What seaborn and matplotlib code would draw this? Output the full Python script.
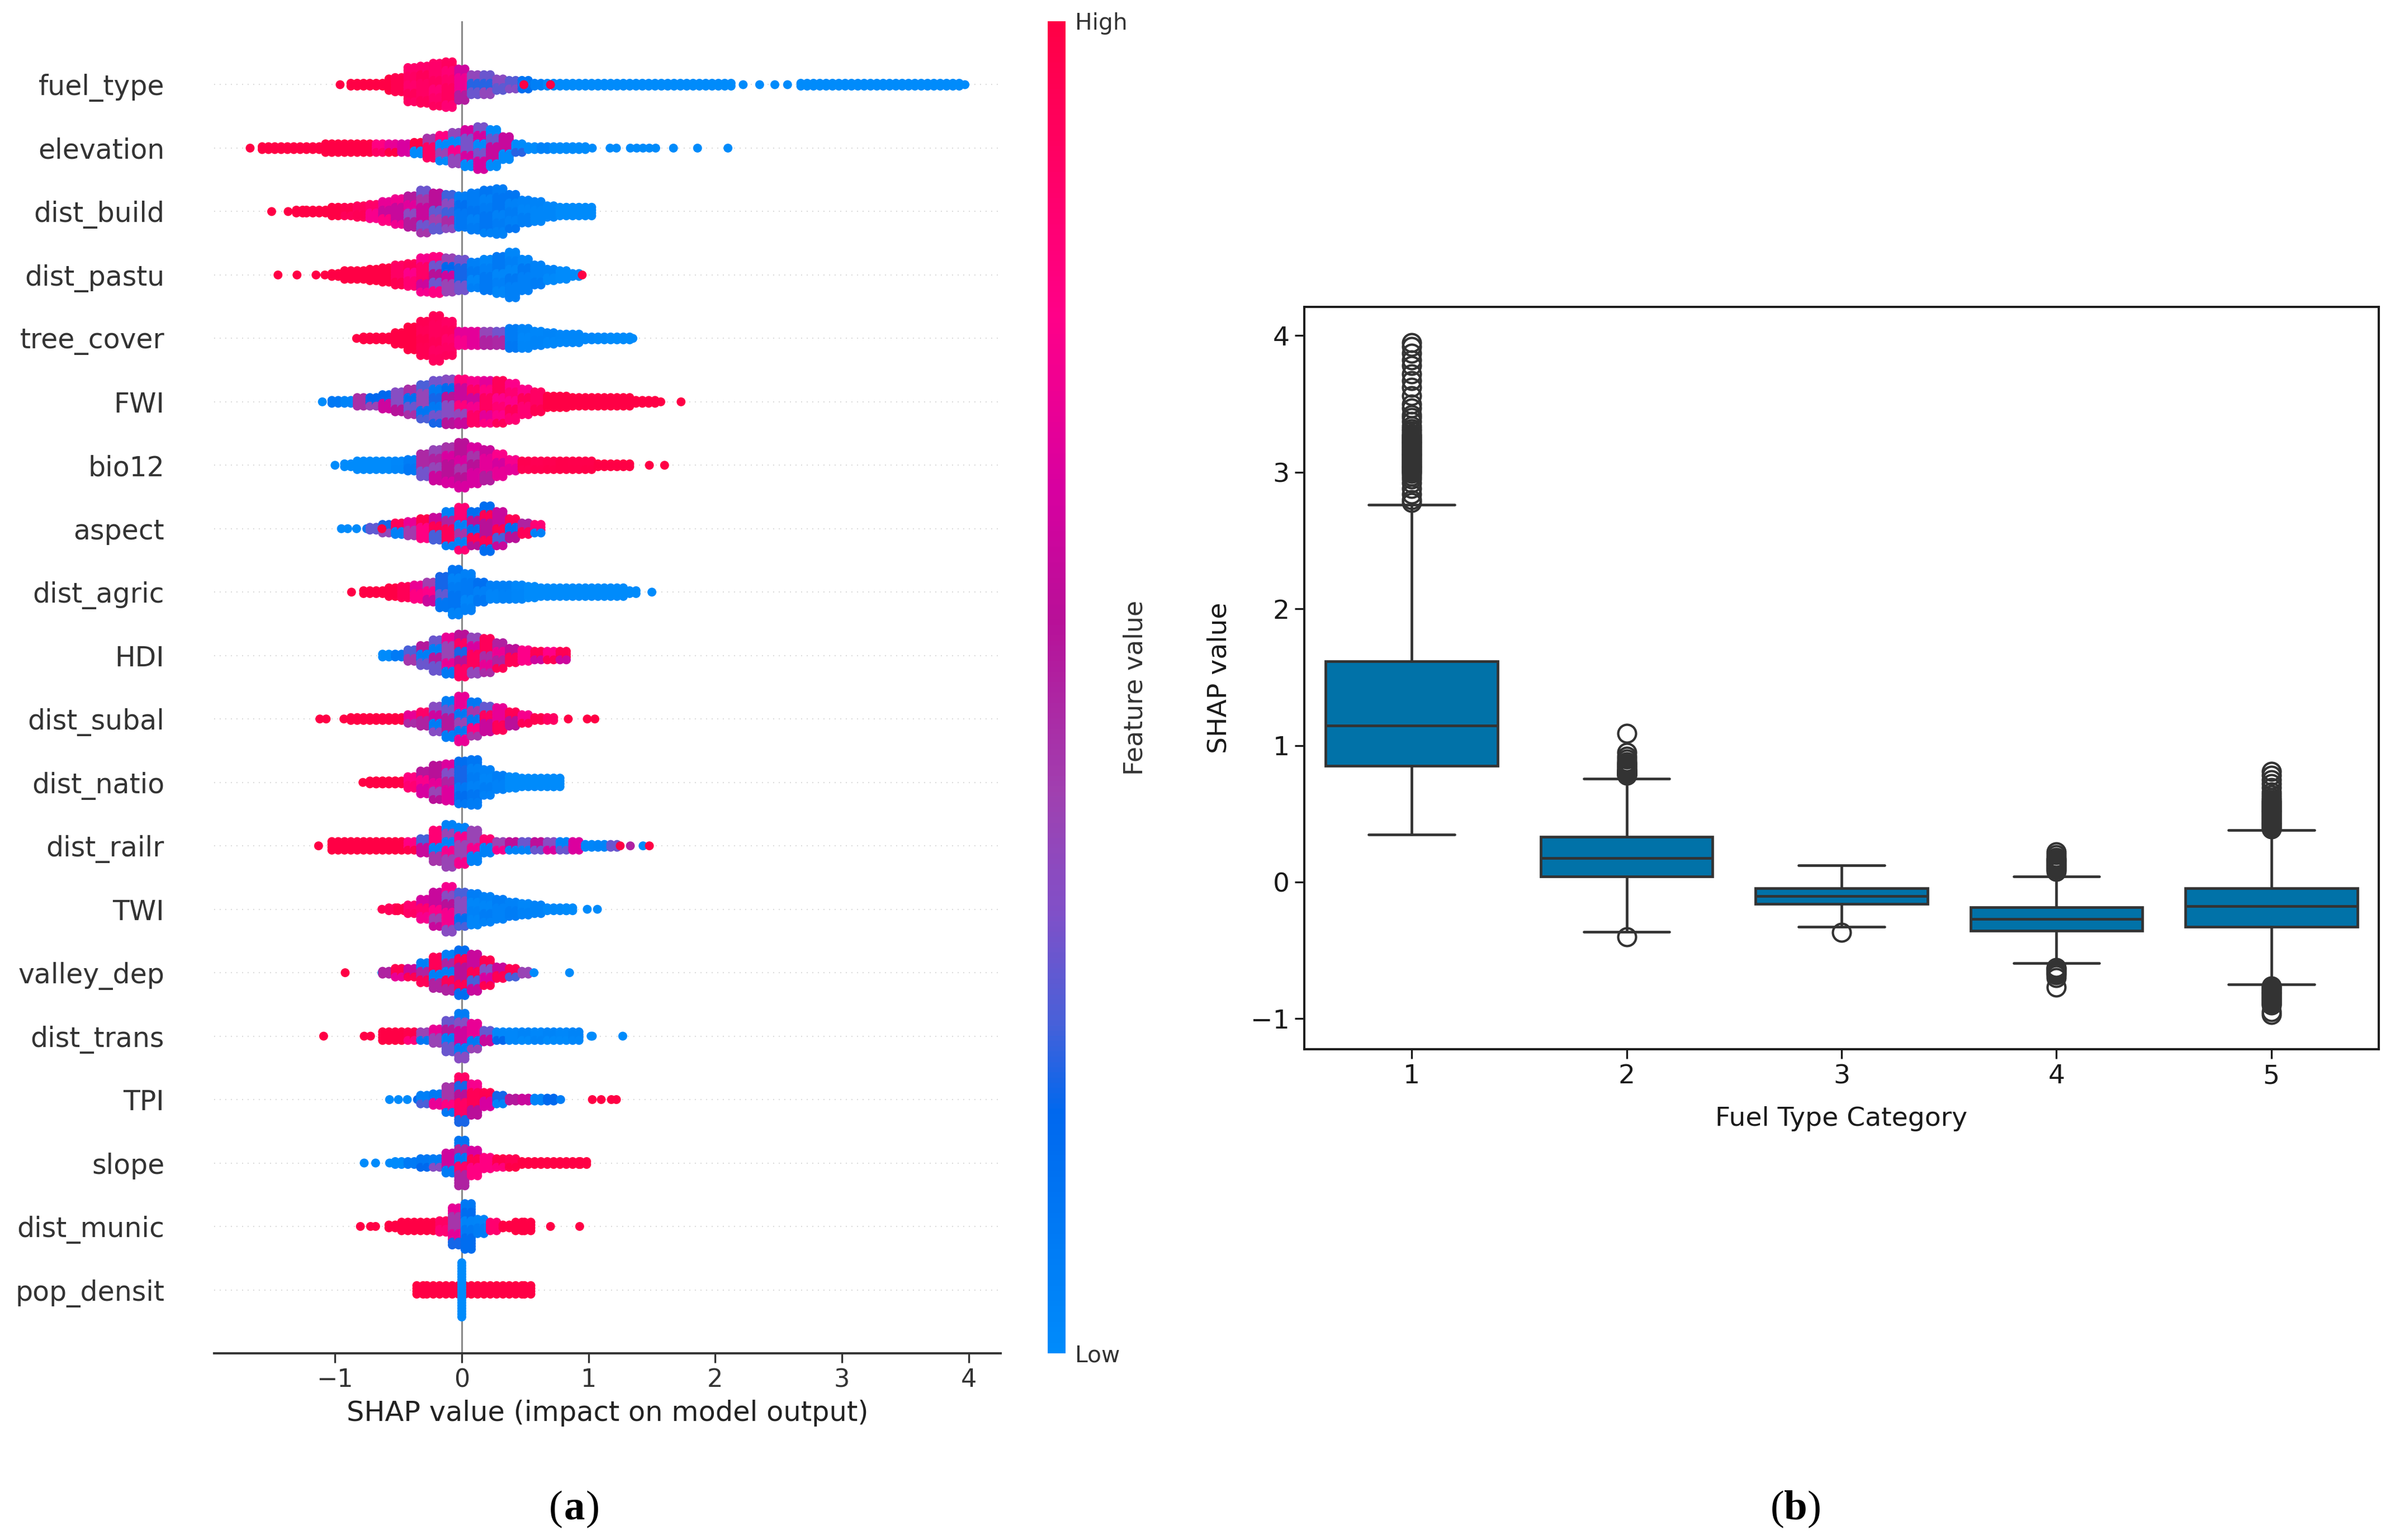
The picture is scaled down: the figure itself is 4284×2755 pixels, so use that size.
import numpy as np
import pandas as pd
import matplotlib
matplotlib.use("Agg")
import matplotlib.pyplot as plt
from matplotlib.colors import LinearSegmentedColormap
from matplotlib.cm import ScalarMappable
import seaborn as sns

W, H = 4284, 2755
DPI = 200

features = ["fuel_type", "elevation", "dist_build", "dist_pastu", "tree_cover", "FWI", "bio12",
            "aspect", "dist_agric", "HDI", "dist_subal", "dist_natio", "dist_railr", "TWI",
            "valley_dep", "dist_trans", "TPI", "slope", "dist_munic", "pop_densit"]

# Each feature: SHAP value of a bin, height of the bin's stack, mean feature value of the bin, mixing of colours
fuel_type_x = [-0.96,-0.85,-0.75,-0.65,-0.55,-0.5,-0.4,-0.3,-0.2,-0.1,0.0,0.1,0.2,0.3,0.4,0.5,0.6,0.7,0.8,0.9,1.0,1.1,1.2,1.3,1.4,1.5,1.6,1.7,1.8,1.9,2.0,2.1,2.22,2.35,2.47,2.57,2.7,2.8,2.9,3.0,3.1,3.2,3.3,3.4,3.5,3.6,3.7,3.8,3.9,3.97,0.49,0.7]
fuel_type_n = [1,2,2,2,4,5,10,11,12,13,9,6,6,4,3,3,2,2,2,2,2,2,2,2,2,2,2,2,2,2,2,2,1,1,1,1,2,2,2,2,2,2,2,2,2,2,2,2,2,1,1,1]
fuel_type_v = [1,1,1,1,1,.95,.9,.9,.88,.88,.62,.3,.3,.28,.27,.15,.05,.02,0,0,0,0,0,0,0,0,0,0,0,0,0,0,0,0,0,0,0,0,0,0,0,0,0,0,0,0,0,0,0,0,1,1]
fuel_type_mix = 0.25

elevation_x = [-1.67,-1.55,-1.45,-1.35,-1.25,-1.15,-1.05,-0.95,-0.85,-0.75,-0.65,-0.55,-0.45,-0.35,-0.25,-0.15,-0.05,0.05,0.15,0.25,0.35,0.45,0.55,0.65,0.75,0.85,0.95,1.03,1.17,1.22,1.33,1.38,1.43,1.48,1.53,1.67,1.86,2.1]
elevation_n = [1,2,2,2,2,2,3,3,3,3,3,3,3,4,6,8,9,11,12,11,7,3,2,2,2,2,2,1,1,1,1,1,1,1,1,1,1,1]
elevation_v = [1,1,1,1,1,1,1,1,1,.95,.9,.85,.65,.5,.45,.4,.38,.32,.32,.3,.3,.22,.05,.05,0,0,0,0,0,0,0,0,0,0,0,0,0,0]
elevation_mix = 0.9

dist_build_x = [-1.5,-1.37,-1.28,-1.2,-1.1,-1.0,-0.9,-0.8,-0.7,-0.6,-0.5,-0.4,-0.3,-0.2,-0.1,0.0,0.1,0.2,0.3,0.4,0.5,0.6,0.7,0.8,0.9,1.0]
dist_build_n = [1,1,2,2,2,3,3,4,5,6,8,9,12,11,10,9,11,12,13,10,7,6,4,3,3,3]
dist_build_v = [1,1,1,1,1,1,.95,.92,.82,.7,.6,.52,.45,.42,.36,.1,.08,.08,.08,.08,.05,.03,.02,0,0,0]
dist_build_mix = 0.3

dist_pastu_x = [-1.45,-1.3,-1.15,-1.08,-1.0,-0.9,-0.8,-0.7,-0.6,-0.5,-0.4,-0.3,-0.2,-0.1,0.0,0.1,0.2,0.3,0.4,0.5,0.6,0.7,0.8,0.9,0.95]
dist_pastu_n = [1,1,1,1,2,3,3,4,5,6,7,10,11,10,9,8,9,11,13,9,6,4,3,2,1]
dist_pastu_v = [1,1,1,1,1,1,1,1,1,.9,.85,.75,.55,.4,.2,.06,.06,.06,.06,.06,.05,.03,0,0,1]
dist_pastu_mix = 0.5

tree_cover_x = [-0.83,-0.75,-0.65,-0.55,-0.5,-0.4,-0.3,-0.2,-0.1,0.0,0.1,0.2,0.3,0.4,0.5,0.6,0.7,0.8,0.9,1.0,1.1,1.2,1.3,1.35]
tree_cover_n = [1,2,2,2,4,7,10,13,10,5,5,5,5,6,6,5,4,3,3,2,2,2,2,1]
tree_cover_v = [1,1,1,1,1,1,.95,.92,.9,.75,.6,.5,.4,.08,.03,.03,.03,.03,.02,.02,.02,0,0,0]
tree_cover_mix = 0.2

FWI_x = [-1.1,-1.0,-0.9,-0.8,-0.7,-0.6,-0.5,-0.4,-0.3,-0.2,-0.1,0.0,0.1,0.2,0.3,0.4,0.5,0.6,0.7,0.8,0.9,1.0,1.1,1.2,1.3,1.4,1.5,1.57,1.73]
FWI_n = [1,2,2,3,3,5,6,8,10,12,13,13,12,12,12,11,8,6,4,4,3,3,3,3,3,2,2,1,1]
FWI_v = [0,.1,.1,.3,.4,.4,.35,.3,.25,.2,.35,.6,.75,.8,.85,.85,.85,.9,1,1,1,1,1,1,1,1,1,1,1]
FWI_mix = 0.5

bio12_x = [-1.0,-0.9,-0.8,-0.7,-0.6,-0.5,-0.4,-0.3,-0.2,-0.1,0.0,0.1,0.2,0.3,0.4,0.5,0.6,0.7,0.8,0.9,1.0,1.1,1.2,1.3,1.48,1.6]
bio12_n = [1,2,3,3,3,3,4,7,9,11,13,11,9,7,4,3,3,3,3,3,3,2,2,2,1,1]
bio12_v = [0,0,0,0,0,.02,.1,.4,.5,.55,.55,.55,.6,.7,.75,.95,.95,.97,.97,.98,.98,1,1,1,1,1]
bio12_mix = 0.2

aspect_x = [-0.95,-0.9,-0.83,-0.75,-0.7,-0.6,-0.5,-0.4,-0.3,-0.2,-0.1,0.0,0.1,0.2,0.3,0.4,0.5,0.6,-0.63]
aspect_n = [1,1,1,1,2,3,4,5,6,7,10,12,10,13,10,6,4,3,1]
aspect_v = [0,0,0,.1,.15,.2,.5,.7,.8,.6,.5,.45,.55,.55,.6,.55,.5,.45,1]
aspect_mix = 0.8

dist_agric_x = [-0.87,-0.75,-0.65,-0.55,-0.45,-0.35,-0.25,-0.15,-0.05,0.05,0.15,0.25,0.35,0.45,0.55,0.65,0.75,0.85,0.95,1.05,1.15,1.25,1.35,1.5]
dist_agric_n = [1,2,2,3,4,5,6,9,13,11,6,5,5,5,4,3,3,3,3,3,3,3,2,1]
dist_agric_v = [1,1,1,1,.9,.8,.6,.2,.08,.06,.1,.06,.04,.02,0,0,0,0,0,0,0,0,0,0]
dist_agric_mix = 0.4

HDI_x = [-0.6,-0.5,-0.4,-0.3,-0.2,-0.1,0.0,0.1,0.2,0.3,0.4,0.5,0.6,0.7,0.8]
HDI_n = [2,2,4,6,9,11,12,11,10,8,5,4,3,3,3]
HDI_v = [0,.05,.25,.3,.3,.4,.55,.65,.7,.72,.75,.77,.78,.78,.78]
HDI_mix = 0.7

dist_subal_x = [-1.12,-1.07,-0.93,-0.85,-0.75,-0.65,-0.55,-0.45,-0.4,-0.3,-0.2,-0.1,0.0,0.1,0.2,0.3,0.4,0.5,0.6,0.7,0.84,0.99,1.05]
dist_subal_n = [1,1,1,2,2,2,2,2,3,5,8,11,13,10,8,7,5,3,2,2,1,1,1]
dist_subal_v = [1,1,1,1,1,1,1,1,.7,.5,.35,.3,.4,.45,.6,.7,.75,.75,.85,.9,1,1,1]
dist_subal_mix = 0.7

dist_natio_x = [-0.78,-0.7,-0.65,-0.6,-0.55,-0.5,-0.4,-0.3,-0.2,-0.1,0.0,0.1,0.2,0.3,0.4,0.5,0.6,0.7,0.75]
dist_natio_n = [1,2,2,2,2,2,4,7,10,11,12,13,8,5,4,3,3,3,3]
dist_natio_v = [1,1,1,1,1,1,.85,.65,.55,.5,.15,.08,.05,.05,0,0,0,0,0]
dist_natio_mix = 0.3

dist_railr_x = [-1.13,-1.0,-0.9,-0.8,-0.7,-0.6,-0.5,-0.4,-0.3,-0.2,-0.1,0.0,0.1,0.2,0.3,0.4,0.5,0.6,0.7,0.8,0.9,1.0,1.1,1.2,1.25,1.33,1.43,1.48]
dist_railr_n = [1,3,3,3,3,3,3,3,5,9,12,11,9,5,3,3,3,3,3,3,3,2,2,2,1,1,1,1]
dist_railr_v = [1,1,1,1,1,1,1,.8,.6,.45,.4,.4,.4,.45,.4,.3,.3,.3,.35,.3,.35,.2,.3,.3,1,.5,0,1]
dist_railr_mix = 0.8

TWI_x = [-0.63,-0.55,-0.48,-0.4,-0.3,-0.2,-0.1,0.0,0.1,0.2,0.3,0.4,0.5,0.6,0.7,0.8,0.85,0.99,1.07]
TWI_n = [1,2,2,3,6,10,13,10,9,8,6,5,4,3,2,2,2,1,1]
TWI_v = [.95,.95,.95,.9,.75,.6,.55,.25,.05,.05,.05,.05,.05,.03,.03,.02,0,0,0]
TWI_mix = 0.4

valley_dep_x = [-0.92,-0.63,-0.6,-0.5,-0.4,-0.3,-0.2,-0.1,0.0,0.1,0.2,0.3,0.4,0.5,0.57,0.85]
valley_dep_n = [1,1,2,3,3,6,9,11,13,11,8,4,3,2,1,1]
valley_dep_v = [1,0,.5,.7,.6,.5,.5,.5,.55,.6,.65,.6,.6,.4,0,0]
valley_dep_mix = 0.8

dist_trans_x = [-1.09,-0.77,-0.72,-0.6,-0.5,-0.4,-0.3,-0.2,-0.1,0.0,0.1,0.2,0.3,0.4,0.5,0.6,0.7,0.8,0.9,1.02,1.03,1.27]
dist_trans_n = [1,1,1,3,3,3,3,5,9,13,8,4,3,3,3,3,3,3,3,1,1,1]
dist_trans_v = [1,1,1,1,1,.9,.4,.4,.3,.35,.4,.6,.1,.02,.02,.02,.02,.02,.02,0,0,0]
dist_trans_mix = 0.7

TPI_x = [-0.57,-0.5,-0.43,-0.35,-0.3,-0.2,-0.1,0.0,0.1,0.2,0.3,0.4,0.5,0.6,0.7,0.78,1.03,1.1,1.18,1.22]
TPI_n = [1,1,1,1,3,4,8,13,9,5,3,2,2,2,2,1,1,1,1,1]
TPI_v = [0,0,0,.1,.25,.4,.45,.55,.75,.8,.2,.3,.6,.2,.1,.3,1,1,1,1]
TPI_mix = 0.7

slope_x = [-0.77,-0.68,-0.57,-0.5,-0.4,-0.3,-0.2,-0.1,0.0,0.1,0.2,0.3,0.4,0.5,0.6,0.7,0.8,0.9,0.96]
slope_n = [1,1,1,2,2,3,3,6,13,8,4,3,3,2,2,2,2,2,2]
slope_v = [0,0,0,0,.05,.1,.35,.35,.5,.8,.8,.9,.95,1,1,1,1,1,1]
slope_mix = 0.7

dist_munic_x = [-0.8,-0.72,-0.68,-0.55,-0.45,-0.35,-0.25,-0.15,-0.05,0.05,0.15,0.25,0.35,0.45,0.52,0.7,0.93]
dist_munic_n = [1,1,1,2,3,3,3,4,11,13,5,3,2,3,3,1,1]
dist_munic_v = [1,1,1,1,1,1,1,.9,.45,.1,.08,.7,1,1,1,1,1]
dist_munic_mix = 0.5

pop_densit_x = [-0.33,-0.25,-0.15,-0.05,0.05,0.15,0.25,0.35,0.45,0.52,0.0]
pop_densit_n = [3,3,3,3,3,3,3,3,3,3,15]
pop_densit_v = [1,1,1,1,1,1,1,1,1,1,0]
pop_densit_mix = 0.0

swarm = [
    (fuel_type_x, fuel_type_n, fuel_type_v, fuel_type_mix),
    (elevation_x, elevation_n, elevation_v, elevation_mix),
    (dist_build_x, dist_build_n, dist_build_v, dist_build_mix),
    (dist_pastu_x, dist_pastu_n, dist_pastu_v, dist_pastu_mix),
    (tree_cover_x, tree_cover_n, tree_cover_v, tree_cover_mix),
    (FWI_x, FWI_n, FWI_v, FWI_mix),
    (bio12_x, bio12_n, bio12_v, bio12_mix),
    (aspect_x, aspect_n, aspect_v, aspect_mix),
    (dist_agric_x, dist_agric_n, dist_agric_v, dist_agric_mix),
    (HDI_x, HDI_n, HDI_v, HDI_mix),
    (dist_subal_x, dist_subal_n, dist_subal_v, dist_subal_mix),
    (dist_natio_x, dist_natio_n, dist_natio_v, dist_natio_mix),
    (dist_railr_x, dist_railr_n, dist_railr_v, dist_railr_mix),
    (TWI_x, TWI_n, TWI_v, TWI_mix),
    (valley_dep_x, valley_dep_n, valley_dep_v, valley_dep_mix),
    (dist_trans_x, dist_trans_n, dist_trans_v, dist_trans_mix),
    (TPI_x, TPI_n, TPI_v, TPI_mix),
    (slope_x, slope_n, slope_v, slope_mix),
    (dist_munic_x, dist_munic_n, dist_munic_v, dist_munic_mix),
    (pop_densit_x, pop_densit_n, pop_densit_v, pop_densit_mix),
]

# Panel (b): box statistics
fuel_categories = ["1", "2", "3", "4", "5"]
box_q1 = [0.85, 0.04, -0.16, -0.357, -0.328]
box_median = [1.146, 0.178, -0.102, -0.269, -0.175]
box_q3 = [1.615, 0.333, -0.044, -0.184, -0.044]
box_low_whisker = [0.349, -0.365, -0.328, -0.593, -0.75]
box_high_whisker = [2.76, 0.757, 0.123, 0.04, 0.38]
fliers_1 = [2.78,2.8,2.84,2.88,2.92,2.95,2.97,2.99,3.0,3.01,3.02,3.03,3.04,3.05,3.06,3.07,3.08,3.09,3.1,3.11,3.12,3.13,3.14,3.15,3.16,3.17,3.18,3.19,3.2,3.21,3.22,3.23,3.24,3.25,3.26,3.27,3.28,3.3,3.32,3.34,3.37,3.4,3.42,3.47,3.5,3.56,3.62,3.67,3.72,3.78,3.82,3.87,3.92,3.95]
fliers_2 = [-0.4,0.78,0.785,0.79,0.795,0.8,0.805,0.81,0.815,0.82,0.83,0.84,0.85,0.86,0.87,0.88,0.9,0.92,0.95,1.09]
fliers_3 = [-0.37]
fliers_4 = [-0.77,-0.7,-0.68,-0.67,-0.66,-0.65,-0.64,-0.63,-0.625,0.08,0.09,0.1,0.11,0.12,0.13,0.14,0.15,0.16,0.17,0.18,0.2,0.22]
fliers_5 = [-0.97,-0.95,-0.9,-0.89,-0.88,-0.87,-0.86,-0.85,-0.84,-0.83,-0.82,-0.81,-0.8,-0.79,-0.78,-0.77,-0.76,0.39,0.4,0.41,0.42,0.43,0.44,0.45,0.46,0.47,0.48,0.49,0.5,0.51,0.52,0.53,0.54,0.55,0.56,0.57,0.58,0.59,0.6,0.62,0.64,0.66,0.69,0.72,0.75,0.78,0.81]
fliers = [fliers_1, fliers_2, fliers_3, fliers_4, fliers_5]

shap_colors = [(0.0, "#008bfb"), (0.18, "#0068ee"), (0.25, "#4a60d8"), (0.33, "#8050c8"),
               (0.42, "#a040b0"), (0.55, "#b81098"), (0.65, "#d800a0"), (0.78, "#ff0088"), (1.0, "#ff0045")]
shap_cmap = LinearSegmentedColormap.from_list("shap_red_blue", shap_colors)

sns.set_style("white")
plt.rcParams["font.family"] = ["DejaVu Sans"]
fig = plt.figure(figsize=(W / DPI, H / DPI), dpi=DPI, facecolor="white")


def axes_px(left, top, right, bottom):
    return fig.add_axes([left / W, 1 - bottom / H, (right - left) / W, (bottom - top) / H])


# ---------- panel (a) ----------
STACK_STEP = 0.045
SPREAD = 0.025
PATTERN = (1, -1, 0, -1, 1, 0, 0, 1, -1, 0, 1)
rows = []
for r, (xs, ns, vs, mix) in enumerate(swarm):
    for b, (x, n, v) in enumerate(zip(xs, ns, vs)):
        amp = mix * min(v, 1 - v) * 2 * 0.55
        if n == 1:
            sides, m = (0,), 1
        elif n >= 15:
            sides, m = (0,), round(n * 4 / 3)
        else:
            sides, m = (-1, 1), int(n * 4 / 3)
        for side in sides:
            for i in range(m):
                pat = PATTERN[(r * 3 + b * 2 + i // 3) % len(PATTERN)]
                rows.append({"shap": x + side * SPREAD,
                             "pos": r + (i - (m - 1) / 2) * STACK_STEP,
                             "value": float(np.clip(v + amp * pat, 0, 1))})
swarm_df = pd.DataFrame(rows)

ax = axes_px(383, 38, 1790, 2421)
ax.axvline(0, color="#808080", lw=1.0, zorder=-1)
for r in range(len(features)):
    ax.axhline(r, color="#cccccc", lw=0.6, dashes=(1, 5), zorder=-1)
sns.scatterplot(data=swarm_df, x="shap", y="pos", hue="value", palette=shap_cmap, hue_norm=(0, 1),
                s=33, linewidth=0, legend=False, ax=ax, zorder=3)
ax.set_xlim(-1.954, 4.252)
ax.set_ylim(20, -1)
for s in ("top", "left", "right"):
    ax.spines[s].set_visible(False)
ax.spines["bottom"].set_color("#333333")
ax.spines["bottom"].set_linewidth(1.4)
ax.set_yticks(range(len(features)), features)
ax.set_xticks([-1, 0, 1, 2, 3, 4], ["\u22121", "0", "1", "2", "3", "4"])
ax.tick_params(axis="y", length=0, pad=32, labelsize=17.6, labelcolor="#333333")
ax.tick_params(axis="x", length=6, width=1.2, color="#333333", labelsize=16, labelcolor="#333333", bottom=True)
ax.set_xlabel("SHAP value (impact on model output)", fontsize=17.8, color="#222222", labelpad=5)
ax.set_ylabel("")

cax = axes_px(1874, 38, 1906, 2421)
cbar = fig.colorbar(ScalarMappable(norm=plt.Normalize(0, 1), cmap=shap_cmap), cax=cax, ticks=[0, 1])
cbar.ax.set_yticklabels(["Low", "High"])
cbar.ax.tick_params(length=0, pad=6, labelsize=14.7, labelcolor="#333333")
cbar.outline.set_visible(False)
fig.text(2031 / W, 1 - 1230 / H, "Feature value", rotation=90, ha="center", va="center",
         fontsize=16.5, color="#333333")

# ---------- panel (b) ----------
box_rows = []
for cat, q1, med, q3, lo, hi, fl in zip(fuel_categories, box_q1, box_median, box_q3,
                                        box_low_whisker, box_high_whisker, fliers):
    sample = [lo, hi] + [q1] * 200 + [med] * 200 + [q3] * 200 + list(fl)
    box_rows += [{"cat": cat, "shap": v} for v in sample]
box_df = pd.DataFrame(box_rows)

bx = axes_px(2333, 549, 4255, 1877)
sns.boxplot(data=box_df, x="cat", y="shap", order=fuel_categories, color="#0172a8", saturation=1,
            linewidth=1.7, fliersize=11.5, flierprops={"markeredgewidth": 1.5}, ax=bx)
bx.set_xlim(-0.5, 4.5)
bx.set_ylim(-1.223, 4.21)
bx.set_yticks([-1, 0, 1, 2, 3, 4], ["\u22121", "0", "1", "2", "3", "4"])
for s in bx.spines.values():
    s.set_visible(True)
    s.set_color("#1a1a1a")
    s.set_linewidth(1.4)
bx.tick_params(axis="both", length=6, width=1.2, color="#1a1a1a", labelsize=17, labelcolor="#1a1a1a",
               bottom=True, left=True)
bx.set_xlabel("Fuel Type Category", fontsize=17, color="#1a1a1a", labelpad=11)
bx.set_ylabel("SHAP value", fontsize=17, color="#1a1a1a", labelpad=12)

# ---------- captions ----------
for cx, letter in ((1027, "a"), (3212, "b")):
    fig.text((cx - 33) / W, 1 - 2700 / H, "(", fontsize=27, family="Liberation Serif", ha="center", va="center", color="black")
    fig.text(cx / W, 1 - 2700 / H, letter, fontsize=27, family="Liberation Serif", weight="bold", ha="center", va="center", color="black")
    fig.text((cx + 33) / W, 1 - 2700 / H, ")", fontsize=27, family="Liberation Serif", ha="center", va="center", color="black")

fig.savefig("out.png", dpi=DPI, facecolor="white")
